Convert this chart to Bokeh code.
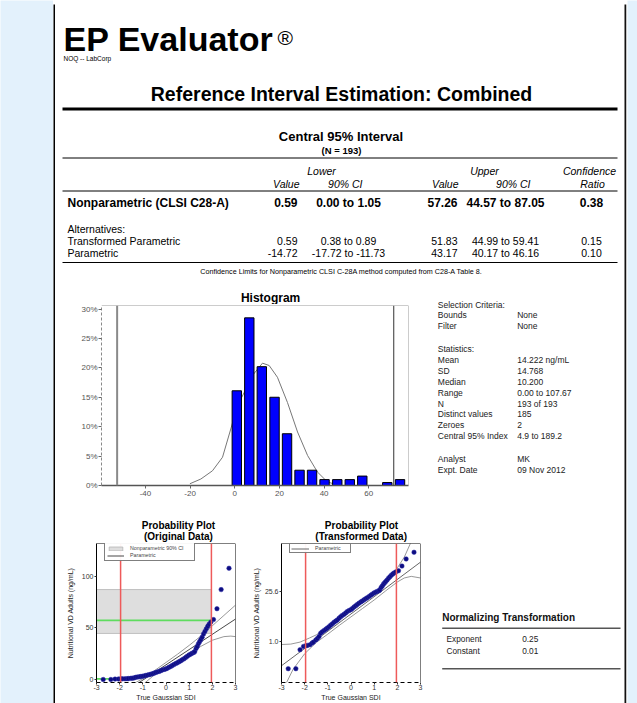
from bokeh.plotting import figure
from bokeh.models import Range1d, FixedTicker, Span, Legend, LegendItem
from bokeh.layouts import row, column
from bokeh.core.properties import value
from bokeh.embed import file_html
from bokeh.resources import INLINE

FONT = "Liberation Sans"
BG = "#e3f1fc"

# ---------------- data ----------------
title_main = "EP Evaluator"
site_name = "NOQ -- LabCorp"
report_title = "Reference Interval Estimation: Combined"
n_total = 193

methods = ["Nonparametric (CLSI C28-A)", "Transformed Parametric", "Parametric"]
lower_value = [0.59, 0.59, -14.72]
lower_ci_lo = [0.00, 0.38, -17.72]
lower_ci_hi = [1.05, 0.89, -11.73]
upper_value = [57.26, 51.83, 43.17]
upper_ci_lo = [44.57, 44.99, 40.17]
upper_ci_hi = [87.05, 59.41, 46.16]
conf_ratio = [0.38, 0.15, 0.10]

sel_labels = ["Bounds", "Filter"]
sel_values = ["None", "None"]
stat_labels = ["Mean", "SD", "Median", "Range", "N", "Distinct values", "Zeroes", "Central 95% Index"]
stat_values = ["14.222 ng/mL", "14.768", "10.200", "0.00 to 107.67", "193 of 193", "185", "2", "4.9 to 189.2"]
analyst = "MK"
expt_date = "09 Nov 2012"

# histogram (bin centres in ng/mL, percent of N)
hist_centers = [0.9, 6.5, 12.1, 17.8, 23.4, 29.0, 34.6, 40.2, 45.9, 51.5, 57.1, 62.7, 68.3, 74.0]
hist_pct = [16.1, 28.5, 20.2, 15.0, 8.8, 2.6, 2.6, 1.0, 1.0, 1.0, 1.6, 0.0, 0.5, 1.0]
curve_x = [-20.1, -15.2, -10.0, -5.5, -1.8, 1.2, 4.2, 7.9, 12.4, 15.4, 19.1, 23.6, 28.1, 32.6, 37.0, 41.5, 46.0]
curve_y = [0.3, 1.1, 2.5, 4.8, 9.6, 13.6, 15.8, 18.7, 20.8, 20.4, 18.4, 14.1, 9.1, 5.1, 2.3, 0.6, 0.1]
hist_marks = [-52.7, 71.2]
hist_xticks = [-40, -20, 0, 20, 40, 60]
hist_yticks = [0, 5, 10, 15, 20, 25, 30]

# probability plot points: (true Gaussian SDI, value ng/mL)
pp_z = [-2.71, -2.38, -2.20, -2.05, -1.95, -1.88, -1.77, -1.68, -1.62, -1.52, -1.45, -1.38,
        -1.31, -1.24, -1.16, -1.09, -1.02, -0.95, -0.88, -0.80, -0.73, -0.66, -0.59, -0.52,
        -0.45, -0.38, -0.30, -0.23, -0.16, -0.08, -0.01, 0.06, 0.13, 0.20, 0.27, 0.34,
        0.42, 0.49, 0.56, 0.63, 0.70, 0.78, 0.85, 0.92, 0.99, 1.06, 1.13, 1.20, 1.24,
        1.30, 1.35, 1.40, 1.45, 1.50, 1.56, 1.62, 1.68, 1.74, 1.80, 1.86, 1.93, 2.05,
        2.20, 2.38, 2.72]
pp_v = [0.0, 0.0, 0.38, 0.57, 0.62, 0.64, 0.69, 0.82, 0.91, 1.13, 1.30, 1.55,
        2.07, 2.35, 2.60, 2.85, 3.13, 3.45, 3.87, 4.25, 4.70, 5.10, 5.50, 6.10,
        6.70, 7.30, 7.80, 8.50, 9.20, 9.80, 10.2, 10.9, 11.8, 12.6, 13.5, 14.4,
        15.4, 16.2, 17.1, 18.0, 19.0, 20.0, 21.3, 22.4, 23.6, 24.5, 25.4, 26.2, 27.0,
        30.0, 32.0, 34.5, 36.5, 38.5, 41.0, 44.0, 46.5, 49.0, 51.5, 53.5, 55.5, 58.0,
        68.5, 87.0, 107.67]
central_z = [-1.96, 1.96]

# original-data parametric line and its CI
p1_line_z = [-3.0, 3.0]
p1_line_v = [-30.1, 58.5]
p1_up_z = [-1.4, -1.0, -0.5, 0.0, 0.5, 1.0, 1.5, 2.0, 2.5, 3.0]
p1_up_v = [-4.0, 0.8, 8.5, 16.5, 24.5, 33.0, 42.0, 52.0, 62.0, 72.0]
p1_lo_z = [-0.95, -0.5, 0.0, 0.5, 1.0, 1.5, 2.0, 2.5, 2.8, 3.0]
p1_lo_v = [-4.0, 4.5, 11.5, 18.5, 25.5, 32.0, 38.0, 41.5, 42.0, 41.5]

# transformed-data parametric line and CI (transformed units)
p2_line_z = [-3.0, 3.0]
p2_line_t = [0.39, 2.975]
p2_up_z = [-3.0, -2.6, -2.2, -1.8, -1.5, -1.0, -0.5, 0.0, 0.5, 1.0, 1.5, 2.0, 2.3, 2.57]
p2_up_t = [0.92, 0.93, 0.98, 1.08, 1.16, 1.36, 1.56, 1.76, 1.97, 2.19, 2.44, 2.83, 3.10, 3.45]
p2_lo_z = [-2.8, -2.5, -2.0, -1.5, -1.0, -0.5, 0.0, 0.5, 1.0, 1.5, 2.0, 2.3, 2.6, 3.0]
p2_lo_t = [-0.05, 0.30, 0.69, 0.97, 1.18, 1.40, 1.61, 1.82, 2.03, 2.26, 2.48, 2.58, 2.62, 2.58]
p2_tick_values = [1.0, 25.6]

norm_exponent = 0.25
norm_constant = 0.01

# ---------------- helpers ----------------
def blank(w, h, color):
    p = figure(width=w, height=h, output_backend="svg", toolbar_location=None,
               min_border=0, x_axis_location=None, y_axis_location=None)
    p.grid.visible = False
    p.outline_line_color = None
    p.background_fill_color = color
    p.border_fill_color = color
    return p

def page_fig(w, h, x0, x1, y0, y1):
    p = figure(width=w, height=h, x_range=Range1d(x0, x1), y_range=Range1d(y1, y0),
               output_backend="svg", toolbar_location=None, min_border=0,
               x_axis_location=None, y_axis_location=None)
    p.grid.visible = False
    p.outline_line_color = None
    p.background_fill_color = "white"
    p.border_fill_color = "white"
    return p

def txt(p, x, y, s, size, style="normal", align="left", color="black"):
    p.text(x=[x], y=[y], text=[s], text_font=value(FONT), text_font_size=value(f"{size}px"),
           text_font_style=style, text_align=align, text_baseline="middle", text_color=color)

def hline(p, x0, x1, y, width=1.0, color="black"):
    p.line(x=[x0, x1], y=[y, y], line_color=color, line_width=width)

def style_axis(ax, size=7, color="#333"):
    ax.major_label_text_font = FONT
    ax.major_label_text_font_size = f"{size}px"
    ax.major_label_text_color = color
    ax.axis_label_text_font = FONT
    ax.axis_label_text_font_style = "normal"
    ax.minor_tick_line_color = None

def frame_edges(p, xr, yr, color):
    p.add_layout(Span(location=yr.end, dimension="width", line_color=color, line_width=1))
    p.add_layout(Span(location=xr.end, dimension="height", line_color=color, line_width=1))

# ---------------- header + table ----------------
hd = page_fig(569, 284, 55, 624, 6, 290)
txt(hd, 63, 38, title_main, 34, "bold")
txt(hd, 277, 36.5, "\u00ae", 21)
txt(hd, 63, 58, site_name, 6.5)
txt(hd, 341, 93, report_title, 19.5, "bold", "center")
hline(hd, 62, 617, 108.5, 3)
txt(hd, 340.5, 136, "Central 95% Interval", 13, "bold", "center")
txt(hd, 341, 149.5, f"(N = {n_total})", 9.5, "bold", "center")
hline(hd, 62, 617, 157.5, 1)
txt(hd, 321, 170, "Lower", 10.5, "italic", "center")
txt(hd, 484, 170, "Upper", 10.5, "italic", "center")
txt(hd, 589, 170, "Confidence", 10.5, "italic", "center")
txt(hd, 299, 183, "Value", 10.5, "italic", "right")
txt(hd, 362, 183, "90% CI", 10.5, "italic", "right")
txt(hd, 458, 183, "Value", 10.5, "italic", "right")
txt(hd, 530, 183, "90% CI", 10.5, "italic", "right")
txt(hd, 592, 183, "Ratio", 10.5, "italic", "center")
hline(hd, 62, 617, 190.5, 1)

row_y = [202, 240.5, 252.5]
for i, m in enumerate(methods):
    sz = 12 if i == 0 else 10.5
    st = "bold" if i == 0 else "normal"
    y = row_y[i]
    txt(hd, 67, y, m, sz, st)
    txt(hd, 297, y, f"{lower_value[i]:.2f}", sz, st, "right")
    txt(hd, 348, y, f"{lower_ci_lo[i]:.2f} to {lower_ci_hi[i]:.2f}", sz, st, "center")
    txt(hd, 457, y, f"{upper_value[i]:.2f}", sz, st, "right")
    txt(hd, 505, y, f"{upper_ci_lo[i]:.2f} to {upper_ci_hi[i]:.2f}", sz, st, "center")
    txt(hd, 591, y, f"{conf_ratio[i]:.2f}", sz, st, "center")
txt(hd, 67, 228, "Alternatives:", 10.5)
hline(hd, 62, 617, 262, 1)
txt(hd, 341, 271, "Confidence Limits for Nonparametric CLSI C-28A method computed from C28-A Table 8.",
    7.2, align="center")

# ---------------- histogram ----------------
ht = page_fig(365, 14, 55, 420, 290, 304)
txt(ht, 256, 297, "Histogram", 12, "bold", "center")

hxr = Range1d(-59.7, 77.8)
hyr = Range1d(0, 30.6)
hp = figure(width=365, height=201, x_range=hxr, y_range=hyr,
            min_border_left=46, min_border_right=12, min_border_top=1, min_border_bottom=20,
            output_backend="svg", toolbar_location=None)
hp.grid.visible = False
hp.outline_line_color = None
hp.background_fill_color = "white"
hp.border_fill_color = "white"
hp.line(curve_x, curve_y, line_color="#777777", line_width=1)
hp.vbar(x=hist_centers, width=4.2, top=hist_pct, bottom=0, fill_color="#0000ff",
        line_color="black", line_width=1)
hp.add_layout(Span(location=hist_marks[0], dimension="height", line_color="#8a8a8a", line_width=2))
hp.add_layout(Span(location=hist_marks[1], dimension="height", line_color="#333333", line_width=1))
hp.xaxis.ticker = FixedTicker(ticks=hist_xticks)
hp.xaxis.major_label_overrides = {t: str(t) for t in hist_xticks}
hp.yaxis.ticker = FixedTicker(ticks=hist_yticks)
hp.yaxis.major_label_overrides = {t: f"{t}%" for t in hist_yticks}
for ax in (hp.xaxis[0], hp.yaxis[0]):
    style_axis(ax, 8, "#555")
    ax.major_tick_out = 3
    ax.major_tick_in = 0
    ax.major_tick_line_color = "#666"
hp.xaxis.major_label_standoff = 2
hp.yaxis.major_label_standoff = 1
hp.xaxis.axis_line_color = "#555"
hp.xaxis.axis_line_width = 1.5
hp.yaxis.axis_line_color = "#888"
hp.yaxis.axis_line_dash = "3 2"
frame_edges(hp, hxr, hyr, "#999")

# ---------------- statistics block ----------------
sf = page_fig(204, 215, 420, 624, 290, 505)
LX, VX, FS = 437.3, 516.7, 8.5
txt(sf, LX, 304, "Selection Criteria:", FS, color="#222")
for i, (a, b) in enumerate(zip(sel_labels, sel_values)):
    txt(sf, LX, 314.5 + 10.9 * i, a, FS, color="#222")
    txt(sf, VX, 314.5 + 10.9 * i, b, FS, color="#222")
txt(sf, LX, 348.2, "Statistics:", FS, color="#222")
for i, (a, b) in enumerate(zip(stat_labels, stat_values)):
    txt(sf, LX, 359.2 + 10.95 * i, a, FS, color="#222")
    txt(sf, VX, 359.2 + 10.95 * i, b, FS, color="#222")
txt(sf, LX, 458.3, "Analyst", FS, color="#222")
txt(sf, VX, 458.3, analyst, FS, color="#222")
txt(sf, LX, 469.8, "Expt. Date", FS, color="#222")
txt(sf, VX, 469.8, expt_date, FS, color="#222")

# ---------------- probability plots ----------------
RED = "#ee5a5a"
GREEN = "#5fdc5f"
PT_FILL = "#0d0d80"
PT_LINE = "#2b2ba8"

def prob_fig(w, ml, yr):
    xr = Range1d(-3, 3)
    yr = Range1d(*yr)
    p = figure(width=w, height=160, x_range=xr, y_range=yr,
               min_border_left=ml, min_border_right=10, min_border_top=0, min_border_bottom=21,
               output_backend="svg", toolbar_location=None)
    p.grid.visible = False
    p.outline_line_color = None
    p.background_fill_color = "white"
    p.border_fill_color = "white"
    p.xaxis.ticker = FixedTicker(ticks=[-3, -2, -1, 0, 1, 2, 3])
    p.xaxis.major_label_overrides = {t: str(t) for t in [-3, -2, -1, 0, 1, 2, 3]}
    for ax in (p.xaxis[0], p.yaxis[0]):
        style_axis(ax, 7, "#333")
        ax.major_tick_out = 2
        ax.major_tick_in = 0
        ax.major_tick_line_color = "#333"
        ax.axis_line_color = "black"
        ax.axis_label_text_font_size = "7px"
        ax.axis_label_text_color = "#222"
    p.xaxis.major_label_standoff = 0
    p.xaxis.axis_line_dash = "4 3"
    p.xaxis.axis_label = "True Gaussian SDI"
    p.xaxis.axis_label_standoff = 1
    p.yaxis.major_label_standoff = 1
    p.yaxis.axis_label = "Nutritional VD Adults (ng/mL)"
    frame_edges(p, xr, yr, "black")
    return p

# plot 1: original data
t1 = page_fig(190, 38, 55, 245, 505, 543)
txt(t1, 167, 524.5, "Probability Plot", 10, "bold", "center")
txt(t1, 167, 536, "(Original Data)", 10, "bold", "center")

p1 = prob_fig(190, 41, (-2.9, 131.6))
p1.yaxis.ticker = FixedTicker(ticks=[0, 50, 100])
p1.yaxis.axis_label_standoff = 5
band = p1.quad(left=-3, right=central_z[1], bottom=upper_ci_lo[0], top=upper_ci_hi[0],
               fill_color="#dedede", line_color="#b5b5b5", line_width=0.8)
p1.line([-3, central_z[1]], [upper_value[0]] * 2, line_color=GREEN, line_width=1.6)
p1.line([-3, central_z[0]], [lower_value[0]] * 2, line_color=GREEN, line_width=1.6)
for zc in central_z:
    p1.add_layout(Span(location=zc, dimension="height", line_color=RED, line_width=1.5))
p1.line(p1_up_z, p1_up_v, line_color="#8c8c8c", line_width=0.9)
p1.line(p1_lo_z, p1_lo_v, line_color="#8c8c8c", line_width=0.9)
par1 = p1.line(p1_line_z, p1_line_v, line_color="#333333", line_width=0.9)
p1.scatter(pp_z, pp_v, size=4.5, fill_color=PT_FILL, line_color=PT_LINE, line_width=0.5)
leg1 = Legend(items=[LegendItem(label="Nonparametric 90% CI", renderers=[band]),
                     LegendItem(label="Parametric", renderers=[par1])],
              location=(8, 121), label_text_font=FONT, label_text_font_size="5.3px",
              glyph_height=5, glyph_width=17, label_height=5, label_standoff=6,
              padding=2, spacing=1, margin=0, border_line_color="black",
              border_line_width=1, label_width=62)
p1.add_layout(leg1)

# plot 2: transformed data
t2 = page_fig(185, 38, 245, 430, 505, 543)
txt(t2, 351.5, 524.5, "Probability Plot", 10, "bold", "center")
txt(t2, 351, 536, "(Transformed Data)", 10, "bold", "center")

p2 = prob_fig(185, 36, (-0.028, 3.44))
tick_pos = [round((v + norm_constant) ** norm_exponent, 6) for v in p2_tick_values]
p2.yaxis.ticker = FixedTicker(ticks=tick_pos)
p2.yaxis.major_label_overrides = {tp: f"{v:.1f}" for tp, v in zip(tick_pos, p2_tick_values)}
p2.yaxis.axis_label_standoff = 2
for zc in central_z:
    p2.add_layout(Span(location=zc, dimension="height", line_color=RED, line_width=1.5))
p2.line(p2_up_z, p2_up_t, line_color="#8c8c8c", line_width=0.9)
p2.line(p2_lo_z, p2_lo_t, line_color="#8c8c8c", line_width=0.9)
par2 = p2.line(p2_line_z, p2_line_t, line_color="#555555", line_width=0.9)
pp_t = [(v + norm_constant) ** norm_exponent for v in pp_v]
p2.scatter(pp_z, pp_t, size=4.5, fill_color=PT_FILL, line_color=PT_LINE, line_width=0.5)
leg2 = Legend(items=[LegendItem(label="Parametric", renderers=[par2])],
              location=(8, 129), label_text_font=FONT, label_text_font_size="5.3px",
              glyph_height=5, glyph_width=18, label_height=5, label_standoff=6,
              padding=1, spacing=0, margin=0, border_line_color="black",
              border_line_width=1, label_width=34)
p2.add_layout(leg2)

# normalizing transformation block
nf = page_fig(194, 198, 430, 624, 505, 703)
txt(nf, 441.7, 616.7, "Normalizing Transformation", 10, "bold", color="#111")
hline(nf, 441.7, 620, 627.7, 1.4, "#555")
txt(nf, 446, 638.3, "Exponent", 8.3, color="#222")
txt(nf, 521.7, 638.3, f"{norm_exponent:.2f}", 8.3, color="#222")
txt(nf, 446, 650, "Constant", 8.3, color="#222")
txt(nf, 521.7, 650, f"{norm_constant:.2f}", 8.3, color="#222")
hline(nf, 441.7, 620, 668.3, 1.4, "#555")

# ---------------- layout ----------------
page = column(
    blank(569, 4, BG),
    blank(569, 2, "black"),
    hd,
    row(column(ht, hp), sf),
    row(column(t1, p1), column(t2, p2), nf),
)

def side(w, color):
    return column(blank(w, 4, BG), blank(w, 699, color))

root = row(
    blank(53, 703, BG),
    side(2, "black"),
    page,
    side(2, "#111111"),
    side(1, "#8a8a8a"),
    blank(10, 703, BG),
)

open("out.html", "w").write(file_html(root, INLINE))
